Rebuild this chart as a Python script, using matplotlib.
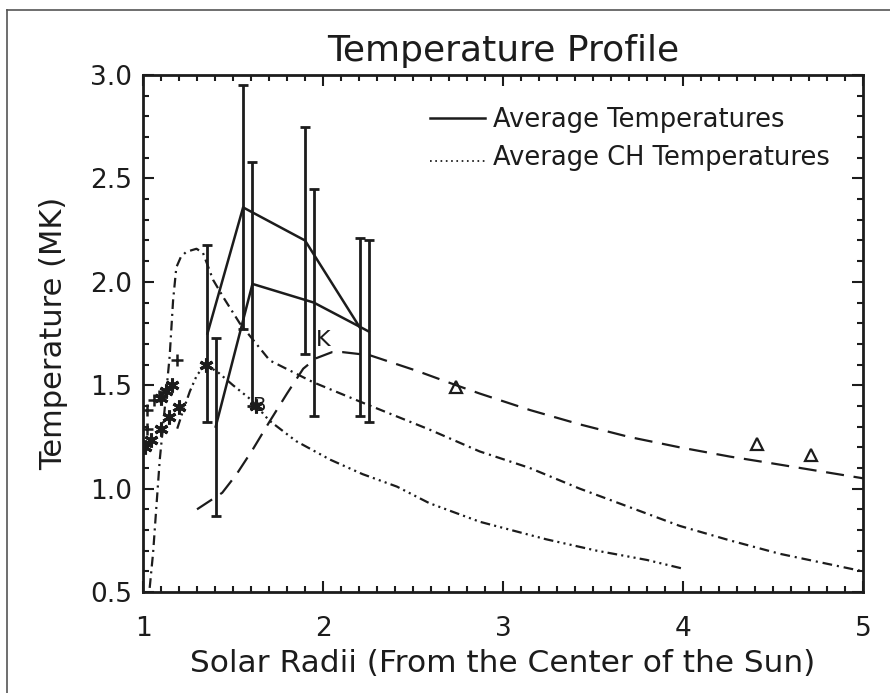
import matplotlib
matplotlib.use("Agg")
import matplotlib.pyplot as plt
from matplotlib.lines import Line2D
from matplotlib.ticker import MultipleLocator

plt.rcParams['font.family'] = ['DejaVu Sans']
plt.rcParams['lines.scale_dashes'] = False

INK = '#1c1c1c'

# Average temperatures (two sets of means with error bars)
avg1_r = [1.358, 1.556, 1.900, 2.204]
avg1_t = [1.75, 2.36, 2.20, 1.78]
avg1_err = [0.43, 0.59, 0.55, 0.43]

avg2_r = [1.404, 1.608, 1.948, 2.254]
avg2_t = [1.30, 1.99, 1.90, 1.76]
avg2_err = [0.43, 0.59, 0.55, 0.44]

# Model curves
dash_r = [1.30, 1.44, 1.52, 1.61, 1.70, 1.80, 1.89, 1.96, 2.05, 2.11, 2.26,
          2.52, 2.74, 2.87, 3.15, 3.43, 3.70, 3.98, 4.26, 4.44, 4.72, 5.0]
dash_t = [0.90, 0.98, 1.07, 1.19, 1.32, 1.46, 1.58, 1.63, 1.66, 1.66, 1.645,
          1.57, 1.50, 1.46, 1.38, 1.31, 1.25, 1.20, 1.155, 1.13, 1.09, 1.05]

dd_r = [1.037, 1.056, 1.074, 1.093, 1.111, 1.148, 1.167, 1.185, 1.21, 1.24,
        1.297, 1.333, 1.389, 1.45, 1.537, 1.611, 1.704, 1.944, 2.222, 2.593,
        2.87, 3.148, 3.426, 3.704, 3.981, 4.259, 4.537, 5.0]
dd_t = [0.52, 0.69, 0.91, 1.14, 1.30, 1.64, 1.91, 2.07, 2.12, 2.145,
        2.16, 2.14, 2.01, 1.92, 1.80, 1.72, 1.62, 1.515, 1.415, 1.285,
        1.18, 1.10, 1.00, 0.91, 0.82, 0.75, 0.685, 0.60]

ddd_r = [1.19, 1.22, 1.26, 1.30, 1.35, 1.42, 1.50, 1.60, 1.70, 1.85, 2.04,
         2.22, 2.41, 2.59, 2.87, 3.24, 3.52, 3.80, 3.99]
ddd_t = [1.29, 1.37, 1.47, 1.55, 1.60, 1.56, 1.50, 1.43, 1.33, 1.23, 1.14,
         1.07, 1.01, 0.93, 0.84, 0.755, 0.70, 0.655, 0.615]

# Observations
plus_r = [1.02, 1.02, 1.06, 1.09, 1.19]
plus_t = [1.29, 1.38, 1.43, 1.45, 1.62]
star_r = [1.01, 1.045, 1.10, 1.146, 1.20, 1.35, 1.625, 1.10, 1.13, 1.16]
star_t = [1.20, 1.235, 1.29, 1.347, 1.395, 1.60, 1.40, 1.44, 1.47, 1.50]
tri_r = [2.74, 4.41, 4.71]
tri_t = [1.49, 1.215, 1.165]

fig = plt.figure(figsize=(8.9, 6.93), dpi=100)
ax = fig.add_axes([0.1607, 0.1457, 0.809, 0.746])

lw = 1.6
ax.plot(dash_r, dash_t, color=INK, lw=lw, linestyle=(0, (13, 7)))
ax.plot(dd_r, dd_t, color=INK, lw=lw, linestyle=(0, (7, 3.5, 1.5, 3.5)))
ax.plot(ddd_r, ddd_t, color=INK, lw=lw,
        linestyle=(0, (7, 3, 1.5, 3, 1.5, 3, 1.5, 3)))

for r, t, e in [(avg1_r, avg1_t, avg1_err), (avg2_r, avg2_t, avg2_err)]:
    ax.errorbar(r, t, yerr=e, fmt='-', color=INK, lw=1.8, elinewidth=2,
                capsize=3.5, capthick=2)

ax.plot(plus_r, plus_t, '+', color=INK, ms=9, mew=1.8)
ax.plot(star_r, star_t, linestyle='none', marker=(6, 2, 0), color=INK,
        ms=10, mew=2.2)
ax.plot(tri_r, tri_t, '^', color=INK, ms=8, mew=1.6, fillstyle='none')

ax.text(2.0, 1.72, 'K', fontsize=16, color=INK, ha='center', va='center')
ax.text(1.645, 1.40, 'B', fontsize=14, color=INK, ha='center', va='center')

# legend drawn by hand like the original
ax.plot([0.399, 0.475], [0.917, 0.917], transform=ax.transAxes, color=INK,
        lw=1.8)
ax.plot([0.399, 0.475], [0.834, 0.834], transform=ax.transAxes, color=INK,
        lw=1.3, linestyle=(0, (1.2, 2.6)))
ax.text(0.486, 0.899, 'Average Temperatures', transform=ax.transAxes,
        fontsize=18.5, color=INK, va='baseline')
ax.text(0.486, 0.826, 'Average CH Temperatures', transform=ax.transAxes,
        fontsize=18.5, color=INK, va='baseline')

ax.set_xlim(1, 5)
ax.set_ylim(0.5, 3.0)
ax.xaxis.set_major_locator(MultipleLocator(1))
ax.xaxis.set_minor_locator(MultipleLocator(0.1))
ax.yaxis.set_major_locator(MultipleLocator(0.5))
ax.yaxis.set_minor_locator(MultipleLocator(0.1))
ax.xaxis.set_major_formatter(plt.FuncFormatter(lambda v, p: f'{v:.0f}'))
ax.yaxis.set_major_formatter(plt.FuncFormatter(lambda v, p: f'{v:.1f}'))

ax.tick_params(which='both', direction='in', top=True, right=True,
               colors=INK, width=1.5)
ax.tick_params(which='major', length=8)
ax.tick_params(which='minor', length=4)
ax.tick_params(axis='x', which='major', labelsize=19, pad=17)
ax.tick_params(axis='y', which='major', labelsize=19, pad=8)
for s in ax.spines.values():
    s.set_linewidth(2)
    s.set_color(INK)

ax.set_title('Temperature Profile', fontsize=26, color=INK, pad=10)
ax.set_xlabel('Solar Radii (From the Center of the Sun)', fontsize=22.5,
              color=INK, labelpad=5)
ax.set_ylabel('Temperature (MK)', fontsize=22, color=INK)
ax.yaxis.set_label_coords(-0.104, 0.5)

# outer frame lines (top and left) of the original scan
fig.add_artist(Line2D([0.008, 1.0], [0.986, 0.986], transform=fig.transFigure,
                      color='#555555', lw=1.2))
fig.add_artist(Line2D([0.008, 0.008], [0.0, 0.986], transform=fig.transFigure,
                      color='#555555', lw=1.2))

fig.savefig('out.png', dpi=100)
